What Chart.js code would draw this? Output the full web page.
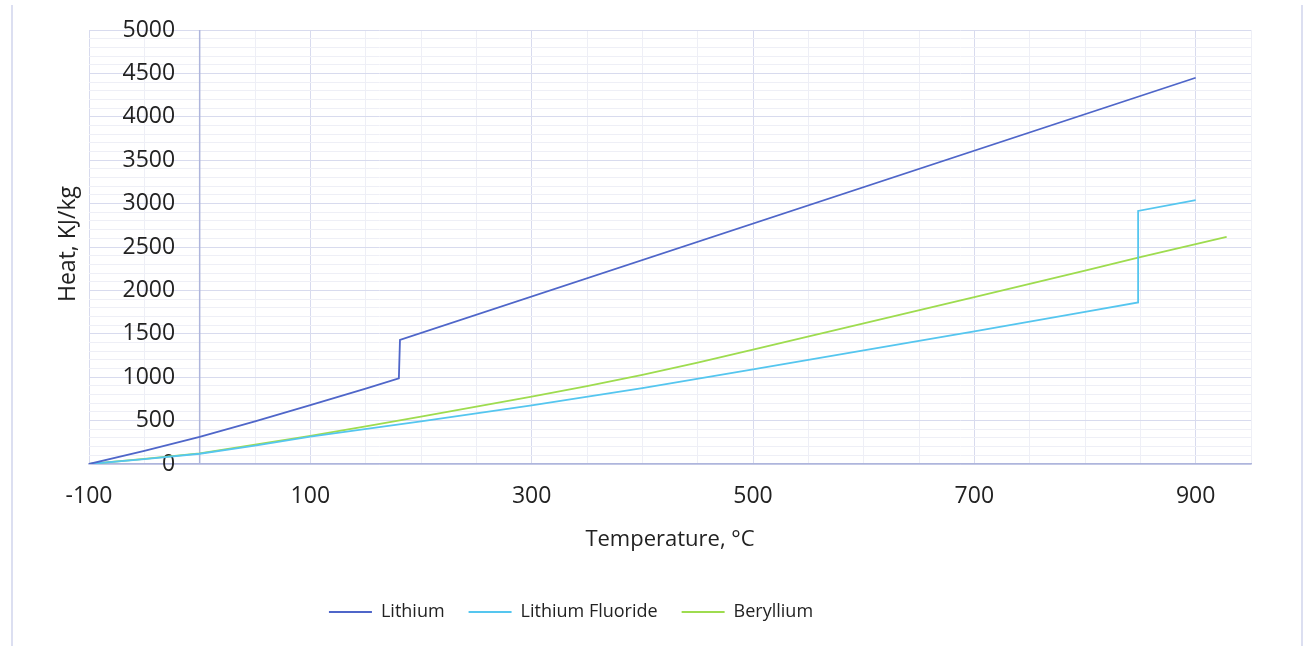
<!DOCTYPE html>
<html>
<head>
<meta charset="utf-8">
<title>Heat vs Temperature</title>
<script src="https://cdn.jsdelivr.net/npm/chart.js@4/dist/chart.umd.min.js"></script>
<style>
  html, body { margin: 0; padding: 0; background: #fff; }
  canvas { display: block; }
</style>
</head>
<body>
<canvas id="heatChart" width="1304" height="646"></canvas>
<script>
// values
const seriesNames = ['Lithium', 'Lithium Fluoride', 'Beryllium'];

const liTemp = [-100, -50, 0, 50, 100, 150, 180, 181, 900];
const liHeat = [0, 152, 312, 490, 678, 868, 988, 1430, 4450];

const lifTemp = [-100, -50, 0, 50, 100, 200, 300, 400, 500, 600, 700, 800, 848, 848, 900];
const lifHeat = [0, 55, 118, 212, 315, 490, 675, 875, 1090, 1308, 1528, 1752, 1862, 2915, 3041];

const beTemp = [-100, -50, 0, 50, 100, 150, 200, 250, 300, 350, 400, 450, 500, 600, 700, 800, 848, 928];
const beHeat = [0, 58, 123, 222, 325, 433, 545, 660, 777, 898, 1028, 1168, 1318, 1620, 1922, 2228, 2378, 2617];

const xTickLabels = [-100, 100, 300, 500, 700, 900];
const yTickLabels = [0, 500, 1000, 1500, 2000, 2500, 3000, 3500, 4000, 4500, 5000];

const lineColors = ['#4f66c9', '#55c6ef', '#9edc4f'];

const toPoints = (xs, ys) => xs.map((x, i) => ({ x: x, y: ys[i] }));

const seriesData = [
  toPoints(liTemp, liHeat),
  toPoints(lifTemp, lifHeat),
  toPoints(beTemp, beHeat)
];

const textColor = '#222';
const majorGrid = '#d8dbee';
const minorGrid = '#eeeff6';
const axisLine = '#aeb5dc';

// light frame lines left and right, like the exported chart
const framePlugin = {
  id: 'frame',
  beforeDraw(chart) {
    const ctx = chart.ctx;
    ctx.save();
    ctx.strokeStyle = '#dcdff1';
    ctx.lineWidth = 2;
    ctx.beginPath();
    ctx.moveTo(12, 5);
    ctx.lineTo(12, chart.height);
    ctx.moveTo(1302, 5);
    ctx.lineTo(1302, chart.height);
    ctx.stroke();
    ctx.restore();
  }
};

// vertical axis line at 0 °C, over the grid but under the data
const zeroLinePlugin = {
  id: 'zeroLine',
  beforeDatasetsDraw(chart) {
    const a = chart.chartArea;
    const x = chart.scales.x.getPixelForValue(0);
    const ctx = chart.ctx;
    ctx.save();
    ctx.strokeStyle = axisLine;
    ctx.lineWidth = 1.5;
    ctx.beginPath();
    ctx.moveTo(x, a.top);
    ctx.lineTo(x, a.bottom);
    ctx.stroke();
    ctx.restore();
  }
};

// y title sits left of the plot
const yTitlePlugin = {
  id: 'yTitle',
  afterDraw(chart) {
    const a = chart.chartArea;
    const ctx = chart.ctx;
    ctx.save();
    ctx.translate(68, (a.top + a.bottom) / 2 - 3);
    ctx.rotate(-Math.PI / 2);
    ctx.font = '23px "Open Sans"';
    ctx.fillStyle = textColor;
    ctx.textAlign = 'center';
    ctx.textBaseline = 'middle';
    ctx.fillText('Heat, KJ/kg', 0, 0);
    ctx.restore();
  }
};

// legend is centred a bit left of the plot centre in the reference
const legendShift = {
  id: 'legendShift',
  afterLayout(chart) {
    const lg = chart.legend;
    if (!lg) return;
    const w = lg.right - lg.left;
    const centre = 571;
    lg.left = centre - w / 2;
    lg.right = centre + w / 2;
  }
};

const ctx = document.getElementById('heatChart').getContext('2d');

new Chart(ctx, {
  type: 'line',
  data: {
    datasets: seriesNames.map((name, i) => ({
      label: name,
      data: seriesData[i],
      borderColor: lineColors[i],
      backgroundColor: lineColors[i],
      borderWidth: 1.8,
      pointRadius: 0,
      tension: 0,
      fill: false
    }))
  },
  options: {
    responsive: false,
    animation: false,
    layout: { padding: { left: 89, right: 53, top: 30, bottom: 15 } },
    plugins: {
      tooltip: { enabled: false },
      legend: {
        position: 'bottom',
        labels: {
          boxWidth: 43,
          boxHeight: 2,
          padding: 24,
          color: textColor,
          font: { family: 'Open Sans', size: 18 },
          generateLabels: chart =>
            Chart.defaults.plugins.legend.labels.generateLabels(chart)
              .map(l => Object.assign(l, { lineWidth: 0 }))
        }
      }
    },
    scales: {
      x: {
        type: 'linear',
        min: -100,
        max: 950,
        position: 'bottom',
        ticks: {
          stepSize: 50,
          autoSkip: false,
          maxRotation: 0,
          padding: 19,
          color: textColor,
          font: { family: 'Open Sans', size: 23 },
          callback: v => xTickLabels.includes(v) ? String(v) : ''
        },
        grid: {
          drawTicks: false,
          color: c => xTickLabels.includes(c.tick && c.tick.value) ? majorGrid : minorGrid
        },
        border: { color: axisLine, width: 1.5 },
        title: {
          display: true,
          text: 'Temperature, °C',
          color: textColor,
          font: { family: 'Open Sans', size: 22 },
          padding: { top: -3, bottom: 26 }
        }
      },
      y: {
        type: 'linear',
        min: 0,
        max: 5000,
        // labels end a little left of the 0 °C line
        position: { x: -22.2 },
        ticks: {
          stepSize: 100,
          autoSkip: false,
          color: textColor,
          font: { family: 'Open Sans', size: 23 },
          callback: v => yTickLabels.includes(v) ? String(v) : ''
        },
        grid: {
          drawTicks: false,
          color: c => yTickLabels.includes(c.tick && c.tick.value) ? majorGrid : minorGrid
        },
        border: { display: false }
      }
    }
  },
  plugins: [framePlugin, zeroLinePlugin, yTitlePlugin, legendShift]
});
</script>
</body>
</html>
